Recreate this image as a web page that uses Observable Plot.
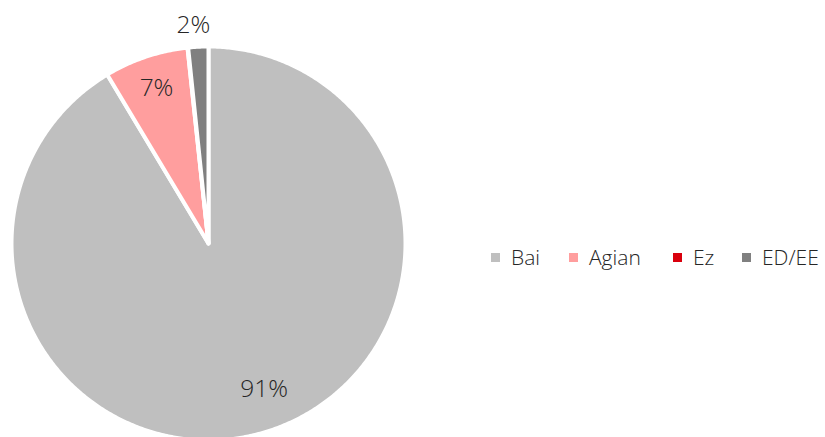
<!DOCTYPE html>
<html><head><meta charset="utf-8">
<script src="https://cdn.jsdelivr.net/npm/d3@7"></script>
<script src="https://cdn.jsdelivr.net/npm/@observablehq/plot@0.6"></script>
<style>
body{margin:0;background:#fff;}
#wrap{position:relative;width:825px;height:437px;overflow:hidden;font-family:"Open Sans",sans-serif;}
#legend .item{position:absolute;top:242px;display:flex;align-items:center;font-size:21px;line-height:30px;font-weight:300;color:#262626;white-space:nowrap;}
#legend .sw{width:9px;height:9px;margin-right:11px;}
</style>
</head><body>
<div id="wrap"><div id="chart"></div><div id="legend"></div></div>
<script>
// Data
const categories = ["Bai", "Agian", "Ez", "ED/EE"];
const shares = [91.4, 6.9, 0.05, 1.65];
const sliceLabels = ["91%", "7%", "", "2%"];
const colors = ["#bfbfbf", "#ff9e9e", "#d9000d", "#808080"];

// Layout
const cx = 208, cy = 243, R = 197;
const labelRadius = [0.79, 0.83, 0, 1.11];
const labelAngleShift = [-5.5, 0, 0, -1]; // degrees
const legendLeft = [491, 569, 673, 742];

const total = d3.sum(shares);
const polys = [];
const labels = [];
let acc = 0;
categories.forEach((name, i) => {
  const a0 = acc / total * 2 * Math.PI;
  acc += shares[i];
  const a1 = acc / total * 2 * Math.PI;
  polys.push({name, x: 0, y: 0});
  const n = Math.max(2, Math.ceil((a1 - a0) / (Math.PI / 360)));
  for (let k = 0; k <= n; k++) {
    const a = a0 + (a1 - a0) * k / n;
    polys.push({name, x: Math.sin(a), y: Math.cos(a)});
  }
  if (sliceLabels[i]) {
    const am = (a0 + a1) / 2 + labelAngleShift[i] * Math.PI / 180;
    labels.push({text: sliceLabels[i], x: labelRadius[i] * Math.sin(am), y: labelRadius[i] * Math.cos(am)});
  }
});

const chart = Plot.plot({
  width: 825,
  height: 437,
  x: {domain: [-1, 1], range: [cx - R, cx + R], axis: null},
  y: {domain: [-1, 1], range: [cy + R, cy - R], axis: null},
  color: {domain: categories, range: colors},
  style: {fontFamily: '"Open Sans", sans-serif', background: "transparent"},
  marks: [
    Plot.line(polys, {x: "x", y: "y", z: "name", fill: "name", stroke: "white", strokeWidth: 4, curve: "linear-closed", strokeLinejoin: "round"}),
    Plot.text(labels, {x: "x", y: "y", text: "text", fontSize: 24.5, fontWeight: 300, fill: "#262626"})
  ]
});
document.getElementById("chart").appendChild(chart);

const legend = document.getElementById("legend");
categories.forEach((name, i) => {
  const it = document.createElement("div");
  it.className = "item";
  it.style.left = legendLeft[i] + "px";
  const sw = document.createElement("span");
  sw.className = "sw";
  sw.style.background = colors[i];
  const t = document.createElement("span");
  t.textContent = name;
  it.appendChild(sw); it.appendChild(t);
  legend.appendChild(it);
});
</script>
</body></html>
